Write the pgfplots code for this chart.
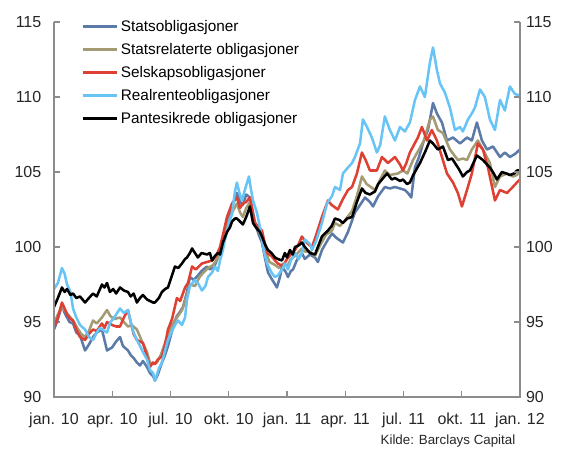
\documentclass[border=0pt]{standalone}
\usepackage{fontspec}
\setmainfont{Liberation Sans}
\usepackage{pgfplots}
\pgfplotsset{compat=1.18}
\definecolor{stats}{RGB}{92,122,168}
\definecolor{statsrel}{RGB}{164,154,116}
\definecolor{selskap}{RGB}{222,64,52}
\definecolor{realrente}{RGB}{104,196,245}
\definecolor{axgray}{RGB}{140,140,140}

\begin{document}
\begin{tikzpicture}
\useasboundingbox (-40.5pt,-39pt) rectangle (382.5pt,297.75pt);
\begin{axis}[
   scale only axis,
   width=349.5pt, height=281.25pt,
   xmin=0, xmax=24, ymin=90, ymax=115,
   xtick={0,3,...,24},
   xticklabels={jan. 10,apr. 10,jul. 10,okt. 10,jan. 11,apr. 11,jul. 11,okt. 11,jan. 12},
   ytick={90,95,...,115},
   xtick pos=bottom, ytick pos=left,
   tick align=inside,
   major tick length=4.5pt,
   tick style={axgray, line width=0.8pt},
   axis line style={draw=none},
   ticklabel style={font=\fontsize{12}{14}\selectfont, text=black!85},
   /pgf/number format/assume math mode=true,
   yticklabel style={xshift=-6pt},
   xticklabel style={yshift=-8.5pt},
   legend style={at={(0.05,1.02)}, anchor=north west, draw=none, fill=none,
      font=\fontsize{11.5}{13}\selectfont, row sep=3.4pt, cells={anchor=west}},
   legend image code/.code={\draw[#1,line width=2pt] (0pt,0pt) -- (25.5pt,0pt);},
   every axis plot/.append style={line width=1.9pt, line join=round},
   after end axis/.code={
      \draw[axgray, line width=0.8pt] (rel axis cs:0,1) -- (rel axis cs:0,0)
         -- (rel axis cs:1,0) -- (rel axis cs:1,1);
      \node[anchor=base east, font=\fontsize{10}{12}\selectfont, text=black!85]
         at ([yshift=-36pt]rel axis cs:1,0) {Kilde: Barclays Capital};
   },
]
% Statsobligasjoner
\addplot[stats] coordinates {
(0.00,94.5)(0.15,95.0)(0.41,96.1)(0.55,95.6)(0.67,95.3)(0.80,95.0)(0.98,94.9)
(1.15,94.3)(1.34,94.1)(1.60,93.1)(1.80,93.5)(2.01,94.0)(2.20,94.3)(2.47,94.5)
(2.60,93.8)(2.73,93.1)(2.99,93.3)(3.20,93.7)(3.40,94.0)(3.55,93.4)(3.81,93.1)
(3.95,92.8)(4.10,92.6)(4.27,92.3)(4.43,92.1)(4.58,92.4)(4.79,92.0)(4.94,91.6)
(5.10,91.4)(5.20,91.1)(5.35,91.5)(5.56,92.3)(5.72,92.8)(5.87,93.4)(6.08,94.4)
(6.23,95.1)(6.33,95.4)(6.50,95.7)(6.64,96.0)(6.85,97.0)(7.00,98.0)(7.20,97.8)
(7.41,98.1)(7.60,98.4)(7.88,98.7)(8.03,98.5)(8.29,98.8)(8.44,99.3)(8.65,100.3)
(8.81,101.0)(8.96,101.8)(9.17,102.7)(9.42,103.6)(9.58,103.0)(9.73,102.8)(9.90,103.5)
(10.09,103.3)(10.25,102.3)(10.35,101.6)(10.55,100.8)(10.71,100.3)(10.86,99.3)(11.02,98.3)
(11.20,97.9)(11.48,97.3)(11.64,98.0)(11.74,98.7)(11.95,98.3)(12.05,98.0)(12.20,98.4)
(12.31,98.5)(12.50,99.1)(12.77,99.6)(12.92,99.2)(13.18,99.5)(13.44,99.3)(13.59,99.0)
(13.80,99.8)(14.11,100.5)(14.32,100.9)(14.55,100.6)(14.88,100.3)(15.14,101.0)(15.50,102.3)
(15.76,102.8)(16.02,103.3)(16.27,103.0)(16.43,102.7)(16.70,103.4)(17.04,104.0)(17.30,103.9)
(17.56,104.0)(17.82,103.9)(18.07,103.8)(18.23,103.6)(18.40,103.3)(18.59,105.3)(18.80,106.0)
(19.00,106.9)(19.26,107.8)(19.52,109.6)(19.72,108.9)(19.98,108.3)(20.24,107.1)(20.55,107.3)
(20.91,106.9)(21.27,107.3)(21.52,107.1)(21.78,108.3)(22.04,107.1)(22.30,106.5)(22.61,106.7)
(22.97,106.0)(23.22,106.3)(23.48,106.0)(23.74,106.2)(24.00,106.5)
};
\addlegendentry{Statsobligasjoner}
% Statsrelaterte obligasjoner
\addplot[statsrel] coordinates {
(0.00,94.9)(0.20,95.5)(0.41,96.0)(0.60,95.7)(0.85,95.3)(0.98,95.1)(1.20,94.6)
(1.40,94.2)(1.60,94.0)(1.80,94.4)(2.01,95.1)(2.20,94.9)(2.47,95.3)(2.73,95.8)
(2.90,95.4)(3.10,95.2)(3.40,95.3)(3.60,95.0)(3.81,94.7)(4.00,94.8)(4.27,94.5)
(4.50,93.8)(4.79,93.0)(4.94,92.3)(5.10,92.2)(5.30,92.3)(5.50,92.8)(5.72,93.6)
(5.87,94.2)(6.08,94.8)(6.33,95.3)(6.60,95.8)(6.85,96.8)(7.00,97.5)(7.26,97.4)
(7.50,98.0)(7.70,98.3)(7.93,98.6)(8.20,98.8)(8.44,99.3)(8.65,100.1)(8.91,101.4)
(9.17,102.3)(9.42,102.9)(9.58,102.3)(9.73,102.0)(9.90,102.6)(10.09,103.0)(10.25,101.9)
(10.45,101.4)(10.71,100.6)(10.90,99.7)(11.10,99.0)(11.38,98.8)(11.60,98.6)(11.79,98.9)
(12.00,98.7)(12.20,99.2)(12.41,99.4)(12.77,99.9)(12.92,99.7)(13.18,99.7)(13.44,99.4)
(13.70,100.1)(14.00,100.8)(14.32,101.1)(14.47,101.6)(14.73,101.4)(15.00,101.8)(15.35,102.4)
(15.60,103.4)(15.86,104.7)(16.10,104.2)(16.53,103.8)(16.80,104.5)(17.04,105.1)(17.30,104.8)
(17.71,104.9)(17.97,105.1)(18.20,104.9)(18.49,105.8)(18.80,106.5)(19.05,107.1)(19.36,108.5)
(19.52,108.7)(19.77,107.8)(20.03,107.6)(20.39,106.5)(20.80,105.8)(21.06,105.9)(21.27,105.8)
(21.52,106.5)(21.83,107.1)(22.09,106.5)(22.45,105.6)(22.71,104.0)(22.97,104.7)(23.33,104.9)
(23.63,104.7)(23.84,104.8)(24.00,105.0)
};
\addlegendentry{Statsrelaterte obligasjoner}
% Selskapsobligasjoner
\addplot[selskap] coordinates {
(0.00,94.6)(0.20,95.3)(0.41,96.3)(0.55,95.9)(0.67,95.5)(0.85,95.2)(0.98,95.1)
(1.15,94.5)(1.34,94.0)(1.60,93.8)(1.80,94.2)(2.01,94.5)(2.20,94.4)(2.47,94.9)
(2.60,94.6)(2.73,95.0)(2.99,94.8)(3.20,94.7)(3.40,94.7)(3.60,95.3)(3.81,95.8)
(3.95,95.0)(4.10,94.2)(4.27,93.8)(4.43,93.7)(4.58,93.6)(4.79,92.7)(4.94,92.0)
(5.10,92.3)(5.20,92.2)(5.35,92.5)(5.56,92.7)(5.72,93.5)(5.87,94.5)(6.08,95.2)
(6.33,96.6)(6.50,96.4)(6.75,97.3)(6.90,97.6)(7.11,98.7)(7.30,98.5)(7.62,98.9)
(7.88,99.0)(8.14,99.1)(8.35,99.4)(8.55,100.0)(8.70,100.8)(8.91,102.0)(9.17,102.9)
(9.42,103.3)(9.58,102.6)(9.73,102.9)(9.90,103.0)(10.09,103.3)(10.25,102.2)(10.35,101.6)
(10.55,101.3)(10.71,101.1)(10.97,99.6)(11.20,99.4)(11.38,99.1)(11.53,98.9)(11.79,98.7)
(12.00,99.2)(12.26,99.6)(12.41,99.8)(12.60,100.2)(12.77,100.7)(12.92,100.4)(13.18,100.1)
(13.29,100.0)(13.50,100.8)(13.80,102.0)(14.11,103.1)(14.30,102.8)(14.62,102.5)(14.88,103.2)
(15.14,103.8)(15.35,104.0)(15.60,104.9)(15.86,106.3)(16.05,105.8)(16.27,105.1)(16.63,105.1)
(16.89,106.0)(17.20,105.6)(17.56,106.0)(17.82,105.5)(17.97,105.1)(18.15,105.6)(18.33,106.3)
(18.74,107.3)(18.95,108.0)(19.21,107.1)(19.46,107.8)(19.72,107.1)(19.98,106.0)(20.24,104.9)
(20.55,104.3)(20.80,103.6)(21.01,102.7)(21.27,103.8)(21.52,104.9)(21.83,106.9)(22.09,106.5)
(22.35,105.3)(22.71,103.1)(22.97,103.8)(23.33,103.6)(23.63,104.0)(23.84,104.3)(24.00,104.5)
};
\addlegendentry{Selskapsobligasjoner}
% Realrenteobligasjoner
\addplot[realrente] coordinates {
(0.00,97.2)(0.20,97.6)(0.41,98.6)(0.55,98.2)(0.67,97.5)(0.85,97.0)(0.98,95.9)
(1.15,95.3)(1.34,94.8)(1.60,94.5)(1.80,94.0)(2.01,93.8)(2.20,94.3)(2.37,94.6)
(2.60,94.4)(2.73,94.3)(2.90,95.0)(3.05,95.2)(3.20,95.5)(3.40,95.9)(3.60,95.6)
(3.81,95.8)(3.95,95.0)(4.10,94.3)(4.27,93.8)(4.43,93.4)(4.58,93.0)(4.79,92.5)
(4.94,91.8)(5.10,91.6)(5.20,91.1)(5.40,91.9)(5.56,92.3)(5.72,93.1)(5.87,93.8)
(6.08,94.4)(6.23,94.8)(6.39,95.1)(6.59,94.8)(6.75,95.3)(6.85,96.5)(7.00,97.4)
(7.26,97.8)(7.41,97.6)(7.62,97.1)(7.80,97.4)(7.93,98.0)(8.14,98.3)(8.29,98.7)
(8.44,98.4)(8.55,99.1)(8.70,99.8)(8.81,100.5)(9.06,101.8)(9.17,102.2)(9.32,103.7)
(9.42,104.3)(9.55,103.6)(9.68,103.1)(9.85,103.9)(10.04,104.7)(10.15,103.8)(10.25,103.1)
(10.45,102.3)(10.61,101.3)(10.80,99.8)(10.97,98.9)(11.20,98.3)(11.38,98.0)(11.53,98.1)
(11.74,98.5)(11.90,98.9)(12.05,98.5)(12.20,99.1)(12.41,99.6)(12.60,99.2)(12.77,99.6)
(12.92,100.5)(13.18,100.2)(13.29,99.8)(13.50,100.4)(13.80,101.6)(14.06,102.9)(14.32,103.4)
(14.47,104.0)(14.73,103.8)(14.88,104.9)(15.14,105.3)(15.35,105.6)(15.50,106.0)(15.76,106.9)
(15.91,108.5)(16.12,108.0)(16.37,107.3)(16.63,106.3)(16.80,106.8)(17.04,108.7)(17.30,107.8)
(17.56,107.1)(17.82,108.0)(18.07,107.7)(18.33,108.3)(18.59,109.8)(18.85,110.7)(19.10,110.0)
(19.36,112.3)(19.52,113.3)(19.72,111.8)(19.88,110.9)(20.13,110.3)(20.39,109.3)(20.65,107.8)
(20.91,108.0)(21.06,107.7)(21.32,108.5)(21.52,108.9)(21.68,109.3)(21.94,110.5)(22.19,110.0)
(22.45,108.5)(22.71,107.8)(22.97,109.8)(23.22,109.1)(23.48,110.7)(23.74,110.2)(24.00,110.1)
};
\addlegendentry{Realrenteobligasjoner}
% Pantesikrede obligasjoner
\addplot[black] coordinates {
(0.00,96.0)(0.20,96.6)(0.41,97.3)(0.55,97.0)(0.67,97.2)(0.85,96.8)(0.98,96.9)
(1.15,96.6)(1.34,96.7)(1.60,96.3)(1.80,96.6)(2.01,96.9)(2.20,96.7)(2.37,97.2)
(2.47,97.5)(2.60,97.3)(2.73,97.6)(2.88,97.0)(3.05,97.2)(3.20,96.9)(3.40,97.3)
(3.60,97.1)(3.81,97.0)(3.95,96.7)(4.10,96.9)(4.27,96.3)(4.43,96.6)(4.58,96.8)
(4.79,96.5)(4.94,96.4)(5.10,96.3)(5.20,96.3)(5.40,96.6)(5.56,97.0)(5.72,97.2)
(5.87,97.3)(6.00,97.8)(6.23,98.7)(6.40,98.6)(6.59,98.9)(6.75,99.2)(6.85,99.3)
(7.00,99.6)(7.11,99.9)(7.26,99.6)(7.41,99.3)(7.60,99.6)(7.88,99.5)(8.03,99.6)
(8.14,99.1)(8.29,99.4)(8.44,99.6)(8.55,99.5)(8.70,100.3)(8.91,101.0)(9.06,101.3)
(9.17,101.7)(9.32,101.9)(9.42,101.9)(9.58,101.7)(9.73,101.5)(9.90,102.0)(10.09,102.7)
(10.25,101.6)(10.40,101.3)(10.61,101.0)(10.71,100.7)(10.86,100.2)(11.02,99.8)(11.20,99.6)
(11.38,99.3)(11.53,99.2)(11.74,99.1)(11.89,99.6)(12.00,99.3)(12.15,99.8)(12.30,99.5)
(12.41,100.0)(12.60,100.1)(12.77,100.3)(12.92,100.0)(13.18,99.6)(13.44,99.5)(13.59,100.0)
(13.80,100.7)(14.11,101.1)(14.30,101.4)(14.47,101.9)(14.70,101.8)(14.88,101.6)(15.10,101.9)
(15.35,102.0)(15.60,103.0)(15.86,103.9)(16.05,103.6)(16.27,103.5)(16.53,103.7)(16.70,104.2)
(16.89,104.5)(17.15,104.9)(17.40,104.5)(17.56,104.6)(17.82,104.4)(17.97,104.5)(18.18,104.2)
(18.33,104.3)(18.50,104.8)(18.85,105.6)(19.10,106.3)(19.36,107.1)(19.52,106.9)(19.77,106.5)
(20.03,106.7)(20.29,105.8)(20.50,105.9)(20.65,105.6)(20.85,105.2)(21.06,104.7)(21.27,105.0)
(21.42,105.1)(21.60,105.6)(21.78,106.1)(22.09,105.8)(22.30,105.5)(22.45,105.3)(22.65,104.9)
(22.81,104.5)(23.07,105.0)(23.30,104.9)(23.48,104.8)(23.70,104.9)(23.84,105.1)(24.00,105.1)
};
\addlegendentry{Pantesikrede obligasjoner}
\end{axis}
% right-hand value axis
\begin{axis}[
   scale only axis,
   width=349.5pt, height=281.25pt,
   xmin=0, xmax=24, ymin=90, ymax=115,
   ytick={90,95,...,115},
   hide x axis,
   axis line style={draw=none},
   ytick pos=right, yticklabel pos=right,
   tick align=inside,
   major tick length=4.5pt,
   tick style={axgray, line width=0.8pt},
   ticklabel style={font=\fontsize{12}{14}\selectfont, text=black!85},
   /pgf/number format/assume math mode=true,
   yticklabel style={xshift=1pt},
]
\end{axis}
\end{tikzpicture}
\end{document}
